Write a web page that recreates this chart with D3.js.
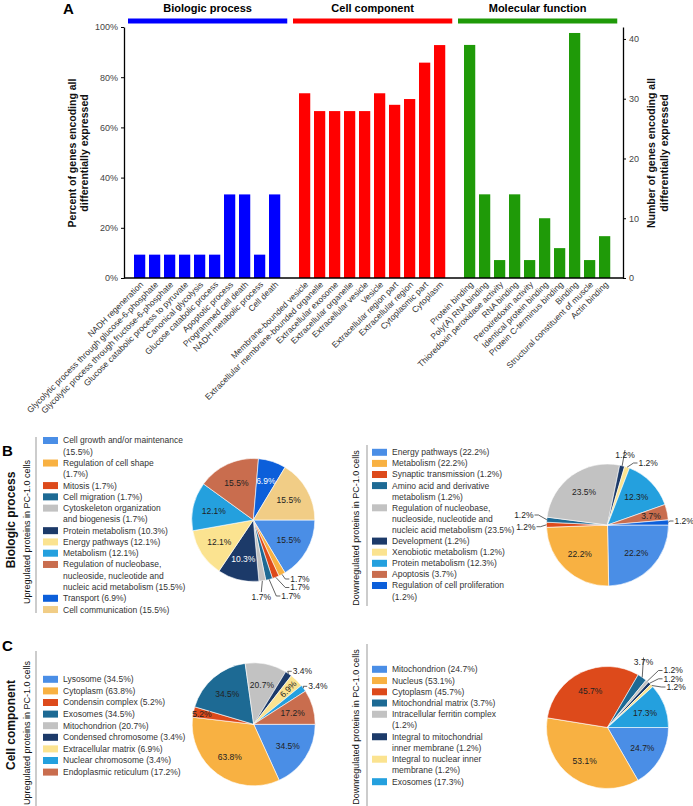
<!DOCTYPE html>
<html>
<head>
<meta charset="utf-8">
<script src="https://cdn.jsdelivr.net/npm/d3@7"></script>
<style>
  body { margin: 0; background: #fff; }
  svg { display: block; font-family: "Liberation Sans", Arial, sans-serif; }
</style>
</head>
<body>
<svg id="fig" width="693" height="806"></svg>
<script>
// ---------- panel A: GO terms ----------
const bpTerms = ["NADH regeneration", "Glycolytic process through glucose-6-phosphate",
  "Glycolytic process through fructose-6-phosphate", "Glucose catabolic process to pyruvate",
  "Canonical glycolysis", "Glucose catabolic process", "Apoptotic process",
  "Programmed cell death", "NADH metabolic process", "Cell death"];
const bpPct = [9.3, 9.3, 9.3, 9.3, 9.3, 9.3, 33.3, 33.3, 9.3, 33.3];

const ccTerms = ["Membrane-bounded vesicle", "Extracellular membrane-bounded organelle",
  "Extracellular exosome", "Extracellular organelle", "Extracellular vesicle", "Vesicle",
  "Extracellular region part", "Extracellular region", "Cytoplasmic part", "Cytoplasm"];
const ccPct = [73.6, 66.5, 66.5, 66.5, 66.5, 73.6, 69, 71.3, 85.8, 92.8];

const mfTerms = ["Protein binding", "Poly(A) RNA binding", "Thioredoxin peroxidase activity",
  "RNA binding", "Peroxiredoxin activity", "Identical protein binding",
  "Protein C-terminus binding", "Binding", "Structural constituent of muscle", "Actin binding"];
const mfCount = [39, 14, 3, 14, 3, 10, 5, 41, 3, 7];

const groupTitles = ["Biologic process", "Cell component", "Molecular function"];
const pctTicks = [0, 20, 40, 60, 80, 100];
const countTicks = [0, 10, 20, 30, 40];

// ---------- panels B / C: pies ("|" marks a legend line break) ----------
const upBPNames = ["Cell growth and/or maintenance|", "Regulation of cell shape|", "Mitosis",
  "Cell migration", "Cytoskeleton organization|and biogenesis", "Protein metabolism",
  "Energy pathways", "Metabolism",
  "Regulation of nucleobase,|nucleoside, nucleotide and|nucleic acid metabolism",
  "Transport", "Cell communication"];
const upBPValues = [15.5, 1.7, 1.7, 1.7, 1.7, 10.3, 12.1, 12.1, 15.5, 6.9, 15.5];

const downBPNames = ["Energy pathways", "Metabolism", "Synaptic transmission",
  "Amino acid and derivative|metabolism",
  "Regulation of nucleobase,|nucleoside, nucleotide and|nucleic acid metabolism",
  "Development", "Xenobiotic metabolism", "Protein metabolism", "Apoptosis",
  "Regulation of cell proliferation|"];
const downBPValues = [22.2, 22.2, 1.2, 1.2, 23.5, 1.2, 1.2, 12.3, 3.7, 1.2];

const upCCNames = ["Lysosome", "Cytoplasm", "Condensin complex", "Exosomes", "Mitochondrion",
  "Condensed chromosome", "Extracellular matrix", "Nuclear chromosome", "Endoplasmic reticulum"];
const upCCValues = [34.5, 63.8, 5.2, 34.5, 20.7, 3.4, 6.9, 3.4, 17.2];

const downCCNames = ["Mitochondrion", "Nucleus", "Cytoplasm", "Mitochondrial matrix",
  "Intracellular ferritin complex|", "Integral to mitochondrial|inner membrane",
  "Integral to nuclear inner|membrane", "Exosomes"];
const downCCValues = [24.7, 53.1, 45.7, 3.7, 1.2, 1.2, 1.2, 17.3];

const upLabel = "Upregulated proteins in PC-1.0 cells";
const downLabel = "Downregulated proteins in PC-1.0 cells";

const palette = ["#4a8ee6", "#f8b142", "#dd4a1b", "#1d6a94", "#c2c2c2", "#1c3a69",
  "#fbe390", "#24a0de", "#c96d4e", "#0c5fda", "#f1cd86"];

const svg = d3.select("#fig");

// ================= panel A =================
const axL = 124, axR = 623, axT = 27, axB = 278;
const xDomain = [...bpTerms, "gap1", ...ccTerms, "gap2", ...mfTerms];
const x = d3.scaleBand().domain(xDomain).range([126.5, 617.75])
  .paddingInner(0.25).paddingOuter(0.5);
const yPct = d3.scaleLinear().domain([0, 100]).range([axB, axT]);
const yCnt = d3.scaleLinear().domain([0, 42]).range([axB, axT]);

const groups = [
  {title: groupTitles[0], terms: bpTerms, vals: bpPct, y: yPct, color: "#0000ff"},
  {title: groupTitles[1], terms: ccTerms, vals: ccPct, y: yPct, color: "#ff0000"},
  {title: groupTitles[2], terms: mfTerms, vals: mfCount, y: yCnt, color: "#1f9a08"}
];

const gA = svg.append("g");
gA.append("text").attr("x", 63).attr("y", 14)
  .attr("font-size", 15).attr("font-weight", "bold").text("A");

groups.forEach(g => {
  const x0 = x(g.terms[0]) - 6, x1 = x(g.terms[g.terms.length - 1]) + x.bandwidth() + 7;
  gA.append("rect").attr("x", x0).attr("y", 18.5).attr("width", x1 - x0).attr("height", 5)
    .attr("fill", g.color);
  gA.append("text").attr("x", (x0 + x1) / 2).attr("y", 12).attr("text-anchor", "middle")
    .attr("font-size", 11).attr("font-weight", "bold").text(g.title);

  gA.selectAll(null).data(g.terms).enter().append("rect")
    .attr("x", d => x(d))
    .attr("width", x.bandwidth())
    .attr("y", (d, i) => g.y(g.vals[i]))
    .attr("height", (d, i) => axB - g.y(g.vals[i]))
    .attr("fill", g.color);

  gA.selectAll(null).data(g.terms).enter().append("text")
    .attr("transform", d => `translate(${x(d) + x.bandwidth() / 2 + 2},${axB + 5}) rotate(-45)`)
    .attr("text-anchor", "end")
    .attr("dy", "0.35em")
    .attr("font-size", 8.5)
    .attr("fill", "#333")
    .text(d => d);
});

const leftAxis = gA.append("g").attr("transform", `translate(${axL},0)`)
  .call(d3.axisLeft(yPct).tickValues(pctTicks).tickFormat(d => d + "%")
    .tickSize(3).tickSizeOuter(0));
const rightAxis = gA.append("g").attr("transform", `translate(${axR},0)`)
  .call(d3.axisRight(yCnt).tickValues(countTicks).tickSize(3).tickSizeOuter(0));
[leftAxis, rightAxis].forEach(a => {
  a.select(".domain").attr("stroke", "#000").attr("stroke-width", 1.3);
  a.selectAll(".tick line").attr("stroke", "#000");
  a.selectAll(".tick text").attr("font-size", 9).attr("fill", "#444")
    .attr("font-family", "Liberation Sans, Arial, sans-serif");
});
gA.append("line").attr("x1", axL).attr("x2", axR).attr("y1", axB).attr("y2", axB)
  .attr("stroke", "#000").attr("stroke-width", 1.3);

function rotTitle(parent, lines, xs, cy, size, weight) {
  lines.forEach((t, i) => {
    parent.append("text")
      .attr("transform", `translate(${xs[i]},${cy}) rotate(-90)`)
      .attr("text-anchor", "middle")
      .attr("font-size", size).attr("font-weight", weight || "normal")
      .attr("fill", "#111")
      .text(t);
  });
}
rotTitle(gA, ["Percent of genes encoding all", "differentially expressed"], [75.5, 88], 153, 10.5, "bold");
rotTitle(gA, ["Number of genes encoding all", "differentially expressed"], [654.5, 667.5], 153, 10.5, "bold");

// ================= pies =================
function drawLegend(x0, y0, lh, names, values) {
  const g = svg.append("g");
  let row = 0;
  names.forEach((n, i) => {
    const lines = (n + " (" + values[i] + "%)").split("|").map(s => s.trim());
    g.append("rect").attr("x", x0).attr("y", y0 + row * lh - 3.5)
      .attr("width", 15).attr("height", 7).attr("fill", palette[i]);
    lines.forEach((t, j) => {
      g.append("text").attr("x", x0 + 20).attr("y", y0 + (row + j) * lh)
        .attr("dy", "0.35em").attr("font-size", 8.5).attr("fill", "#333").text(t);
    });
    row += lines.length;
  });
}

function drawPie(cfg) {
  const g = svg.append("g").attr("transform", `translate(${cfg.cx},${cfg.cy})`);
  const pie = d3.pie().sort(null).startAngle(Math.PI / 2).endAngle(Math.PI / 2 + 2 * Math.PI);
  const arcs = pie(cfg.values);
  const arc = d3.arc().innerRadius(0).outerRadius(cfg.r);
  g.selectAll("path").data(arcs).enter().append("path")
    .attr("d", arc)
    .attr("fill", (d, i) => palette[i])
    .attr("stroke", "#fff").attr("stroke-width", 0.6);

  const ext = {};
  cfg.ext.forEach(e => ext[e.i] = e);
  arcs.forEach((a, i) => {
    const mid = (a.startAngle + a.endAngle) / 2;
    const label = cfg.values[i].toFixed(1) + "%";
    if (ext[i]) {
      const e = ext[i];
      const px = Math.sin(mid) * cfg.r, py = -Math.cos(mid) * cfg.r;
      let pts;
      if (e.anchor === "middle") pts = [[px, py], [e.x, e.y - 5]];
      else {
        const s = e.anchor === "start" ? 1 : -1;
        pts = [[px, py], [e.x - 5 * s, e.y], [e.x - 1 * s, e.y]];
      }
      g.append("path").attr("d", d3.line()(pts)).attr("fill", "none")
        .attr("stroke", "#222").attr("stroke-width", 0.7);
      g.append("text").attr("x", e.x).attr("y", e.y).attr("dy", "0.35em")
        .attr("text-anchor", e.anchor).attr("font-size", 8.5).attr("fill", "#222").text(label);
    } else {
      const o = (cfg.inside && cfg.inside[i]) || {};
      const rr = cfg.r * (o.rf || 0.66);
      const lx = Math.sin(mid) * rr, ly = -Math.cos(mid) * rr;
      const rot = o.rot ? -(90 - mid * 180 / Math.PI) : 0;
      g.append("text")
        .attr("transform", `translate(${lx},${ly}) rotate(${rot})`)
        .attr("dy", "0.35em").attr("text-anchor", "middle")
        .attr("font-size", 8.5)
        .attr("fill", (cfg.white || []).includes(i) ? "#fff" : "#222")
        .text(label);
    }
  });
}

function sideLabels(letter, ly, title, titleY, sub, subX, subY, lineX, lineY0, lineY1) {
  const g = svg.append("g");
  if (letter) g.append("text").attr("x", 2).attr("y", ly)
    .attr("font-size", 15).attr("font-weight", "bold").text(letter);
  if (title) rotTitle(g, [title], [15], titleY, 12, "bold");
  rotTitle(g, [sub], [subX], subY, 9);
  g.append("line").attr("x1", lineX).attr("x2", lineX).attr("y1", lineY0).attr("y2", lineY1)
    .attr("stroke", "#999").attr("stroke-width", 1);
}

// ----- B -----
sideLabels("B", 456, groupTitles[0], 520, upLabel, 29.5, 532, 36, 437, 613);
sideLabels(null, 0, null, 0, downLabel, 358.5, 528, 367, 445, 606);
drawLegend(43, 440.5, 11.27, upBPNames, upBPValues);
drawLegend(372, 452.3, 11.1, downBPNames, downBPValues);
drawPie({cx: 253.3, cy: 520, r: 61.5, values: upBPValues, white: [5, 9],
  ext: [{i: 1, x: 37, y: 59, anchor: "start"}, {i: 2, x: 37, y: 67.5, anchor: "start"},
        {i: 3, x: 28, y: 76, anchor: "start"}, {i: 4, x: 8, y: 77, anchor: "middle"}]});
drawPie({cx: 607.5, cy: 525, r: 61, values: downBPValues,
  inside: {8: {rf: 0.73}},
  ext: [{i: 2, x: -72, y: 1.7, anchor: "end"}, {i: 3, x: -74, y: -10, anchor: "end"},
        {i: 5, x: 17.5, y: -70, anchor: "middle"}, {i: 6, x: 31, y: -62, anchor: "start"},
        {i: 9, x: 67, y: -4, anchor: "start"}]});

// ----- C -----
sideLabels("C", 651, groupTitles[1], 725, upLabel, 29.5, 733, 36, 651, 806);
sideLabels(null, 0, null, 0, downLabel, 358.5, 727, 367, 644, 806);
drawLegend(43, 679.3, 11.6, upCCNames, upCCValues);
drawLegend(372, 669.3, 11.24, downCCNames, downCCValues);
drawPie({cx: 253.7, cy: 724.3, r: 61.5, values: upCCValues,
  inside: {2: {rf: 0.86}, 6: {rf: 0.8, rot: true}},
  ext: [{i: 5, x: 39, y: -53, anchor: "start"}, {i: 7, x: 54.5, y: -38, anchor: "start"}]});
drawPie({cx: 607.5, cy: 727.5, r: 61, values: downCCValues,
  ext: [{i: 3, x: 36, y: -65, anchor: "middle"}, {i: 4, x: 56, y: -57, anchor: "start"},
        {i: 5, x: 56, y: -48.7, anchor: "start"}, {i: 6, x: 59, y: -40.5, anchor: "start"}]});
</script>
</body>
</html>
